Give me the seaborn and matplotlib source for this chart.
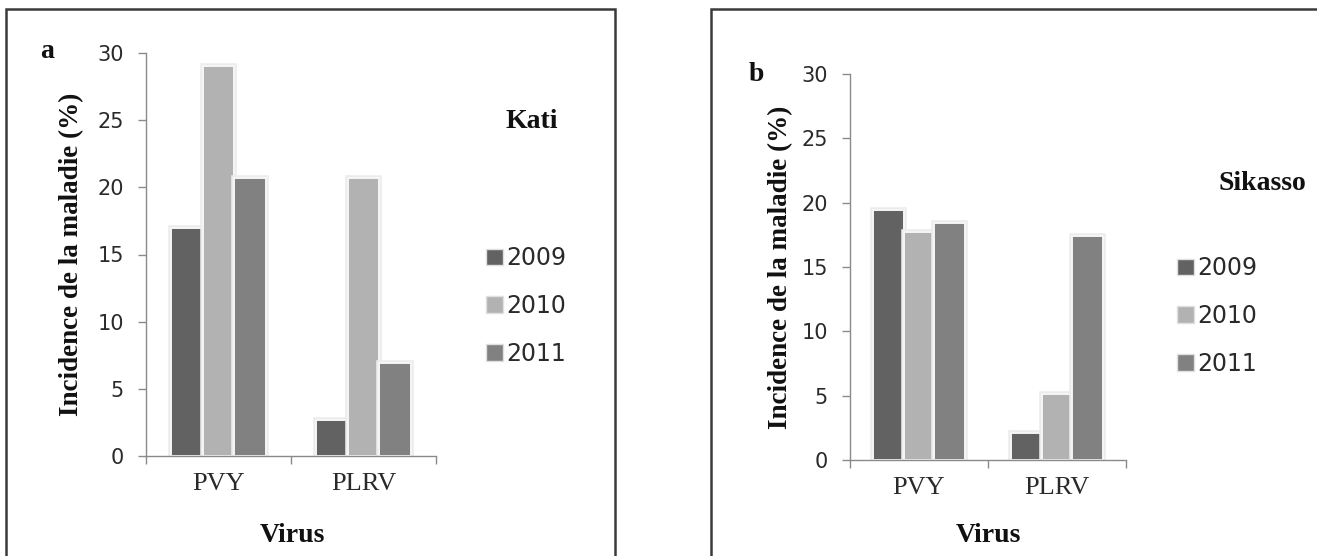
import matplotlib
matplotlib.use("Agg")
import matplotlib.pyplot as plt
import matplotlib.patheffects as pe
from matplotlib.patches import Rectangle
from matplotlib.ticker import FixedLocator
import seaborn as sns
import pandas as pd

viruses = ["PVY", "PLRV"]
years = ["2009", "2010", "2011"]
kati_2009 = [17.0, 2.7]
kati_2010 = [29.0, 20.7]
kati_2011 = [20.7, 6.9]
sik_2009 = [19.4, 2.1]
sik_2010 = [17.7, 5.1]
sik_2011 = [18.45, 17.4]
yticks = [0, 5, 10, 15, 20, 25, 30]
colors = ["#626262", "#b2b2b2", "#818181"]

def frame(vals):
    rows = []
    for yr, series in zip(years, vals):
        for v, val in zip(viruses, series):
            rows.append({"Virus": v, "Année": yr, "val": val})
    return pd.DataFrame(rows)

sns.set_theme(style="white")
plt.rcParams["font.family"] = ["DejaVu Sans"]

W, H = 1317, 556
fig = plt.figure(figsize=(W / 100, H / 100), dpi=100)

serif = ["Liberation Serif", "DejaVu Serif"]
sans = ["DejaVu Sans"]

def fx(px):
    return px / W

def fy(py):
    return 1 - py / H

# panel frames
fig.patches.append(Rectangle((fx(6), fy(562)), fx(615 - 6), fy(9) - fy(562),
                             transform=fig.transFigure, fill=False,
                             edgecolor="#3a3a3a", linewidth=1.8))
fig.patches.append(Rectangle((fx(711), fy(562)), fx(1325 - 711), fy(9) - fy(562),
                             transform=fig.transFigure, fill=False,
                             edgecolor="#3a3a3a", linewidth=1.8))

def panel(rect, vals, letter, letter_xy, place, place_xy, leg_xy, ylab_x, virus_xy):
    ax = fig.add_axes(rect)
    df = frame(vals)
    sns.barplot(data=df, x="Virus", y="val", hue="Année", palette=colors,
                width=0.66, edgecolor="#f6f6f6", linewidth=1.4, ax=ax,
                errorbar=None, legend=True)
    for p in ax.patches:
        p.set_path_effects([pe.Stroke(linewidth=4, foreground="#ececec"), pe.Normal()])
    ax.set_ylim(0, 30)
    ax.set_xlim(-0.5, 1.5)
    ax.set_yticks(yticks)
    ax.set_yticklabels([str(t) for t in yticks], family=sans, fontsize=15,
                       color="#2a2a2a")
    ax.set_xticks([0, 1])
    ax.set_xticklabels(viruses, family=serif, fontsize=19, color="#2a2a2a")
    ax.xaxis.set_minor_locator(FixedLocator([-0.5, 0.5, 1.5]))
    ax.tick_params(axis="x", which="major", length=0, pad=12)
    ax.tick_params(axis="x", which="minor", length=6, width=1, color="#8a8a8a",
                   direction="out", bottom=True)
    ax.tick_params(axis="y", length=6, width=1, color="#8a8a8a", direction="out",
                   left=True, pad=10)
    for s in ["top", "right"]:
        ax.spines[s].set_visible(False)
    for s in ["left", "bottom"]:
        ax.spines[s].set_color("#8a8a8a")
        ax.spines[s].set_linewidth(1.0)
    ax.set_xlabel("")
    ax.set_ylabel("")
    fig.text(fx(ylab_x), ax.get_position().y0 + ax.get_position().height / 2,
             "Incidence de la maladie (%)", rotation=90, ha="center", va="center",
             family=serif, fontweight="bold", fontsize=19.5, color="#111111")
    fig.text(fx(virus_xy[0]), fy(virus_xy[1]), "Virus", ha="center", va="center",
             family=serif, fontweight="bold", fontsize=20, color="#111111")
    fig.text(fx(letter_xy[0]), fy(letter_xy[1]), letter, ha="center", va="center",
             family=serif, fontweight="bold", fontsize=20, color="#111111")
    fig.text(fx(place_xy[0]), fy(place_xy[1]), place, ha="center", va="center",
             family=serif, fontweight="bold", fontsize=20, color="#111111")
    leg = ax.legend(loc="center left", bbox_to_anchor=(fx(leg_xy[0]), fy(leg_xy[1])),
                    bbox_transform=fig.transFigure, frameon=False,
                    handlelength=0.7, handleheight=0.7, handletextpad=0.15,
                    labelspacing=1.0, borderpad=0, borderaxespad=0,
                    prop={"family": sans, "size": 17})
    for h in leg.legend_handles:
        h.set_edgecolor("#e0e0e0")
        h.set_linewidth(1.0)
        h.set_path_effects([])
    for t in leg.get_texts():
        t.set_color("#2a2a2a")
    return ax

panel([fx(146), fy(456), fx(436 - 146), fy(53) - fy(456)],
      [kati_2009, kati_2010, kati_2011], "a", (47, 51), "Kati", (532, 121),
      (486, 306), 72, (292, 535))
panel([fx(850), fy(460), fx(1126 - 850), fy(74) - fy(460)],
      [sik_2009, sik_2010, sik_2011], "b", (756, 74), "Sikasso", (1262, 183),
      (1177, 316), 781, (988, 535))

fig.savefig("out.png", dpi=100)
